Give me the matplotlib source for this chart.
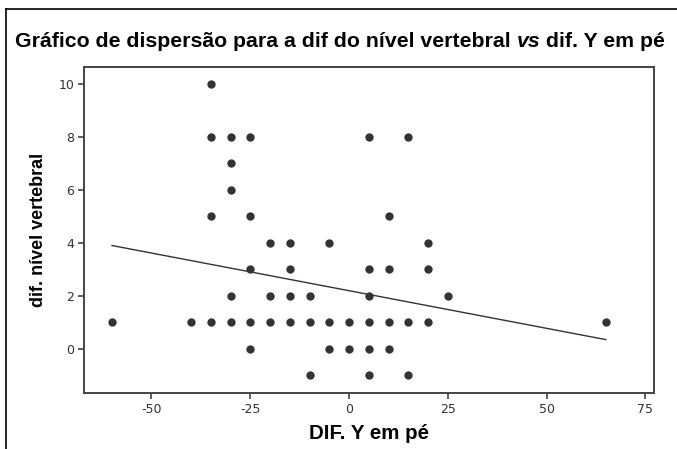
import matplotlib
matplotlib.use("Agg")
import matplotlib.pyplot as plt
from matplotlib.lines import Line2D

# dif. Y em pé (x) vs dif. nível vertebral (y)
dif_y = [-35,
         -35, -30, -25, 5, 15,
         -30,
         -30,
         -35, -25, 10,
         -20, -15, -5, 20,
         -25, -15, 5, 10, 20,
         -30, -20, -15, -10, 5, 25,
         -60, -40, -35, -30, -25, -20, -15, -10, -5, 0, 5, 10, 15, 20, 65,
         -25, -5, 0, 5, 10,
         -10, 5, 15]
dif_nivel = [10,
             8, 8, 8, 8, 8,
             7,
             6,
             5, 5, 5,
             4, 4, 4, 4,
             3, 3, 3, 3, 3,
             2, 2, 2, 2, 2, 2,
             1, 1, 1, 1, 1, 1, 1, 1, 1, 1, 1, 1, 1, 1, 1,
             0, 0, 0, 0, 0,
             -1, -1, -1]

# fitted line
fit_x = [-60, 65]
fit_y = [3.9, 0.35]

x_ticks = [-50, -25, 0, 25, 50, 75]
y_ticks = [0, 2, 4, 6, 8, 10]

plt.rcParams['font.family'] = ['Liberation Sans', 'DejaVu Sans']
plt.rcParams['axes.unicode_minus'] = False

fig = plt.figure(figsize=(6.77, 4.49), dpi=100)
ax = fig.add_axes([0.124, 0.125, 0.842, 0.726])

ax.scatter(dif_y, dif_nivel, s=36, color='#333333', zorder=3, linewidths=0)
ax.plot(fit_x, fit_y, color='#333333', linewidth=1.0)

ax.set_xlim(-67.1, 77.2)
ax.set_ylim(-1.66, 10.64)
ax.set_xticks(x_ticks)
ax.set_yticks(y_ticks)
ax.tick_params(labelsize=9, labelcolor='#333333', color='#444444',
               length=4, width=1.2, direction='out', pad=3)
for lab in ax.get_xticklabels() + ax.get_yticklabels():
    lab.set_family('DejaVu Sans')
for s in ax.spines.values():
    s.set_color('#444444')
    s.set_linewidth(1.4)

ax.set_xlabel("DIF. Y em pé", fontsize=14.8, fontweight='bold', labelpad=6)
ax.set_ylabel("dif. nível vertebral", fontsize=13, fontweight='bold', labelpad=8)

# title in three pieces so that "vs" can be italic
t1 = fig.text(15 / 677, 1 - 47 / 449, "Gráfico de dispersão para a dif do nível vertebral ",
              fontsize=15.3, fontweight='bold', va='baseline', ha='left')
t2 = fig.text(0, 0, "vs", fontsize=15.3, fontweight='bold', style='italic')
t3 = fig.text(0, 0, " dif. Y em pé", fontsize=15.3, fontweight='bold')
fig.canvas.draw()
r = fig.canvas.get_renderer()
b1 = t1.get_window_extent(r)
t2.set_position((b1.x1 / fig.bbox.width, 1 - 47 / 449))
t2.set_va('baseline')
b2 = t2.get_window_extent(r)
t3.set_position((b2.x1 / fig.bbox.width, 1 - 47 / 449))
t3.set_va('baseline')

# outer frame (top and left edges only)
fig.add_artist(Line2D([6 / 677, 1], [1 - 9 / 449, 1 - 9 / 449],
                      transform=fig.transFigure, color='black', linewidth=1.2))
fig.add_artist(Line2D([6 / 677, 6 / 677], [0, 1 - 9 / 449],
                      transform=fig.transFigure, color='black', linewidth=1.2))

fig.savefig("out.png", dpi=100)
